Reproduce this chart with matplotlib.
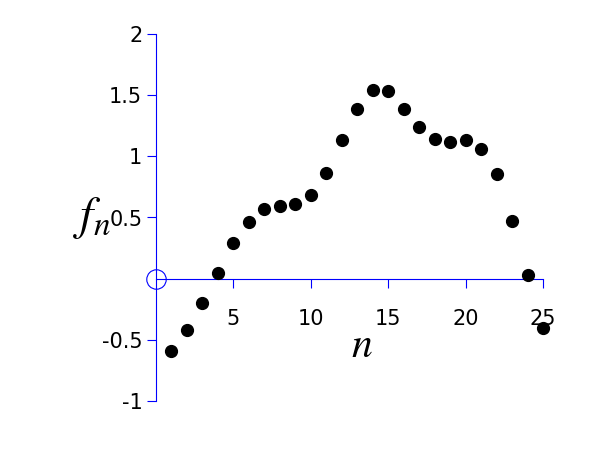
import matplotlib
matplotlib.use("Agg")
import matplotlib.pyplot as plt

n = list(range(1, 26))
f_n = [-0.59, -0.42, -0.20, 0.05, 0.29, 0.46, 0.57, 0.59, 0.61, 0.68,
       0.86, 1.13, 1.39, 1.54, 1.53, 1.39, 1.24, 1.14, 1.12, 1.13,
       1.06, 0.855, 0.475, 0.03, -0.40]
xticks = [5, 10, 15, 20, 25]
yticks = [-1, -0.5, 0.5, 1, 1.5, 2]

plt.rcParams['mathtext.fontset'] = 'stix'
blue = (0, 0, 1)

fig = plt.figure(figsize=(6, 4.5), dpi=100)
ax = fig.add_axes([155.5 / 600, 49 / 450, 387.5 / 600, 367 / 450])
ax.set_xlim(0, 25)
ax.set_ylim(-1, 2)

for side in ('top', 'right'):
    ax.spines[side].set_visible(False)
for side in ('left', 'bottom'):
    ax.spines[side].set_position(('data', 0))
    ax.spines[side].set_color(blue)
    ax.spines[side].set_linewidth(0.8)

ax.set_xticks(xticks)
ax.set_xticklabels([str(v) for v in xticks])
ax.set_yticks(yticks)
ax.set_yticklabels(['-1', '-0.5', '0.5', '1', '1.5', '2'])
ax.tick_params(axis='x', direction='out', length=6.5, width=0.8, color=blue,
               labelsize=15, pad=15)
ax.tick_params(axis='y', direction='out', length=6.5, width=0.8, color=blue,
               labelsize=15, pad=3)

ax.plot([0], [0], 'o', mfc='none', mec=blue, ms=14, mew=0.8, clip_on=False)
ax.plot(n, f_n, 'o', color='black', ms=8.5, clip_on=False, zorder=5)

fig.text(92 / 600, 1 - 218 / 450, r'$f_n$', fontsize=34, ha='center', va='center')
fig.text(362 / 600, 1 - 345 / 450, r'$n$', fontsize=30, ha='center', va='center')

fig.savefig('out.png', dpi=100)
